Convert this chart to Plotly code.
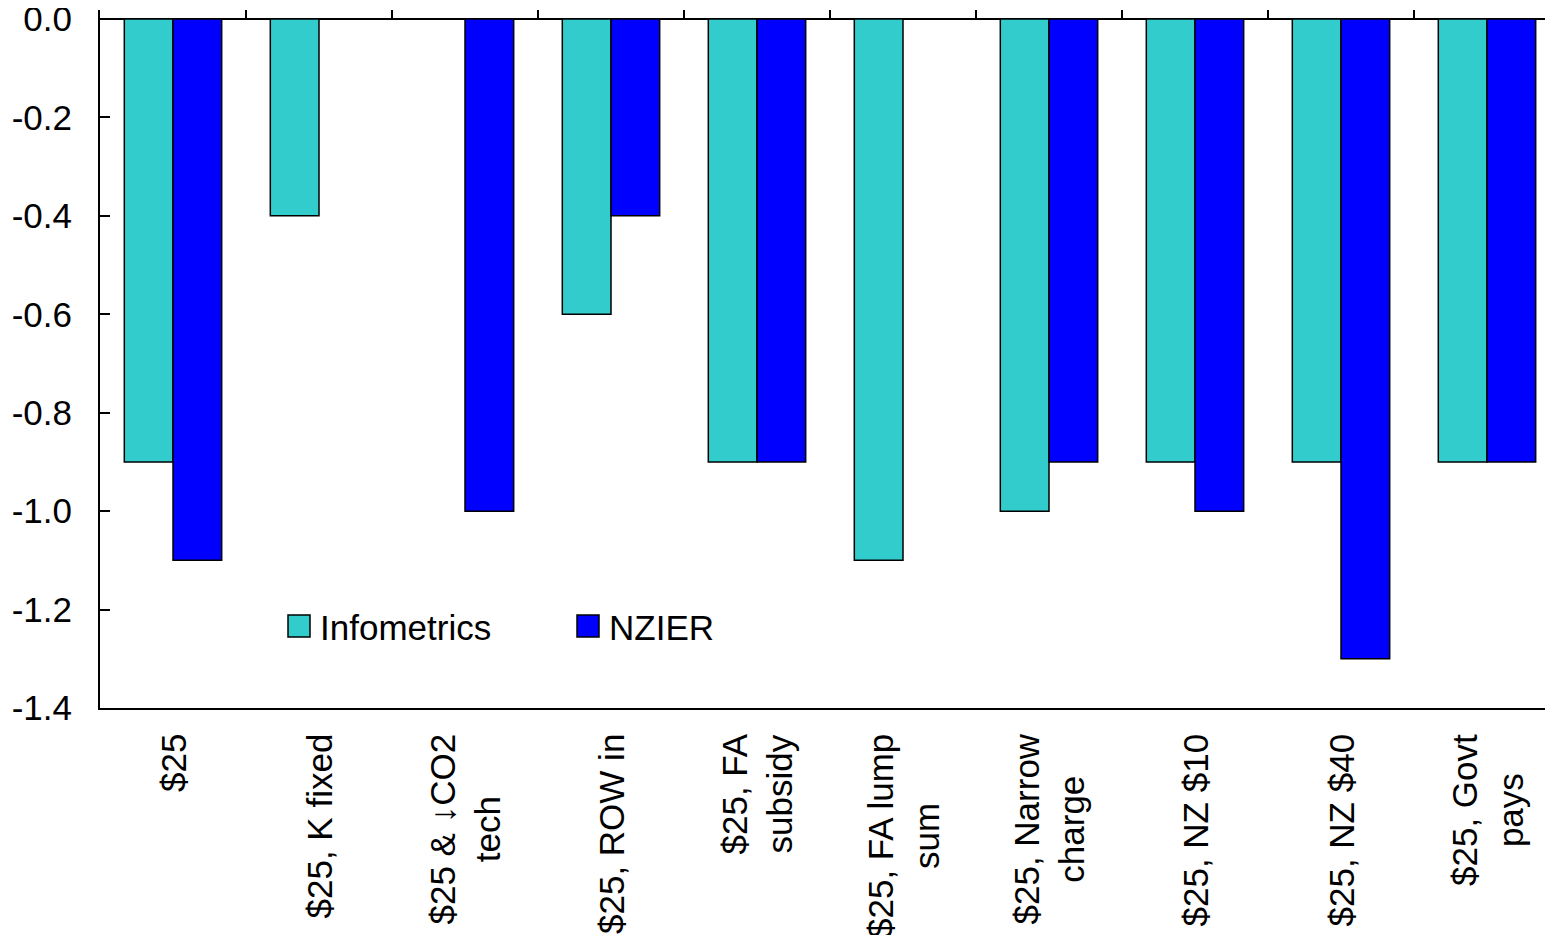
import plotly.graph_objects as go

categories = ["$25", "$25, K fixed", "$25 & \u2193CO2<br>tech", "$25, ROW in",
              "$25, FA<br>subsidy", "$25, FA lump<br>sum", "$25, Narrow<br>charge",
              "$25, NZ $10", "$25, NZ $40", "$25, Govt<br>pays"]
infometrics = [-0.9, -0.4, None, -0.6, -0.9, -1.1, -1.0, -0.9, -0.9, -0.9]
nzier = [-1.1, None, -1.0, -0.4, -0.9, None, -0.9, -1.0, -1.3, -0.9]
series_names = ["Infometrics", "NZIER"]
colors = ["#33CCCC", "#0000FF"]
ytick_vals = [0.0, -0.2, -0.4, -0.6, -0.8, -1.0, -1.2, -1.4]

FONT = "Liberation Sans, Arial, sans-serif"
FS = 35
OFF = 8  # page body margin
W, H = 1553 - OFF, 943 - 2 * OFF
ML, MR, MT = 100 - OFF, 0, 10 - OFF
MB = H - (708 - OFF)

x = list(range(len(categories)))
fig = go.Figure()
for name, vals, c in zip(series_names, [infometrics, nzier], colors):
    fig.add_trace(go.Bar(x=x, y=vals, name=name, marker=dict(color=c, line=dict(color="black", width=1.5)),
                         showlegend=False))

xr = [-0.5, -0.5 + (W - ML - MR) / 146.0]
fig.update_layout(
    width=W, height=H,
    margin=dict(l=ML, r=MR, t=MT, b=MB, autoexpand=False),
    plot_bgcolor="white", paper_bgcolor="white",
    barmode="group", bargap=0.333, bargroupgap=0,
    font=dict(family=FONT, size=FS, color="black"),
    xaxis=dict(range=xr, showline=True, linecolor="black", linewidth=2, ticks="",
               showticklabels=False, showgrid=False, zeroline=False, automargin=False),
    xaxis2=dict(range=xr, overlaying="x", side="top", showline=False, ticks="inside",
                ticklen=9, tickwidth=1.5, tickcolor="black",
                tickvals=[i + 0.5 for i in range(len(categories) - 1)],
                showticklabels=False, showgrid=False, zeroline=False, automargin=False),
    yaxis=dict(range=[-1.4, 0.0183], showline=True, linecolor="black", linewidth=2,
               ticks="inside", ticklen=10, tickwidth=1.5, tickcolor="black",
               tickvals=ytick_vals, ticktext=[f"{v:.1f}" for v in ytick_vals],
               ticklabelstandoff=19, automargin=False, ticklabeloverflow="allow",
               showgrid=False, zeroline=True, zerolinecolor="black", zerolinewidth=2,
               tickfont=dict(size=FS)),
)
# invisible trace to activate xaxis2
fig.add_trace(go.Scatter(x=[0], y=[0], xaxis="x2", mode="markers", marker=dict(opacity=0),
                         showlegend=False, hoverinfo="skip"))

# category labels
pw = W - ML - MR
ph = H - MT - MB
for i, lab in enumerate(categories):
    fig.add_annotation(x=i, xref="x", y=-(24 / ph), yref="paper", text=lab, showarrow=False,
                       textangle=-90, xanchor="center", yanchor="top", align="center",
                       font=dict(size=FS, family=FONT, color="black"))

# legend (positions given in page pixels)
def px(xp):
    return (xp - OFF - ML) / pw

def py(yp):
    return (H - MB - (yp - OFF)) / ph

legend_items = [(288, series_names[0], colors[0]), (577, series_names[1], colors[1])]
for x0, name, c in legend_items:
    fig.add_shape(type="rect", xref="paper", yref="paper", x0=px(x0), x1=px(x0 + 22),
                  y0=py(637), y1=py(615), fillcolor=c, line=dict(color="black", width=1.5))
    fig.add_annotation(xref="paper", yref="paper", x=px(x0 + 30), y=py(627), text=name,
                       showarrow=False, xanchor="left", yanchor="middle",
                       font=dict(size=FS, family=FONT, color="black"))

fig.write_html("out.html")
